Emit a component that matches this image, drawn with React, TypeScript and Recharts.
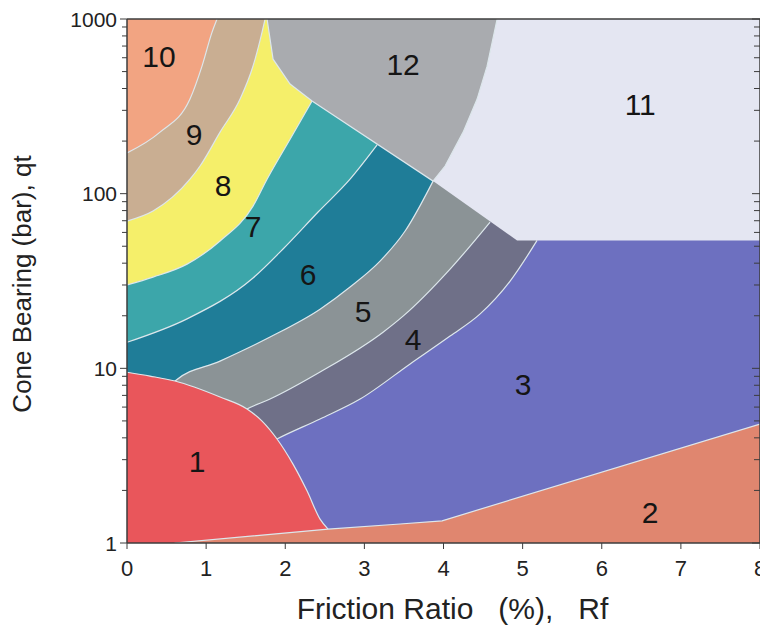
import { ComposedChart, Area, XAxis, YAxis, ReferenceDot } from "recharts";

const FONT = "'Liberation Sans Narrow', 'Liberation Sans', Arial, sans-serif";
const AXIS = "#3c3c3c";
const EDGE = "#dde7ec";

type Pt = [number, number];

// zone boundaries, [Rf (%), qt (bar)]
const zone3Fill: Pt[] = [[0, 1000], [8, 1000]];
const lower4: Pt[] = [[0, 1], [1.896, 3.94], [2.44, 5.13], [2.946, 6.67], [3.578, 10.6], [4.083, 15.3], [4.463, 20.5], [4.842, 31.6], [5.183, 54]];
const lower5: Pt[] = [[0, 1], [1.517, 5.85], [1.808, 6.67], [2.44, 9.52], [3.236, 16.1], [3.489, 19.9], [4.083, 37], [4.589, 68.8]];
const lower6: Pt[] = [[0, 1], [0.607, 8.46], [1.176, 11], [1.808, 15.1], [2.44, 21.8], [2.819, 29.2], [3.198, 41.1], [3.515, 61.1], [3.868, 118]];
const lower7: Pt[] = [[0, 14.1], [0.759, 19.2], [1.593, 32.9], [1.972, 48.2], [2.415, 78.5], [2.819, 121], [3.161, 190]];
const lower8: Pt[] = [[0, 30], [0.329, 33.3], [0.759, 39.5], [1.176, 53.6], [1.593, 84.9], [1.77, 121], [2.061, 205], [2.339, 339]];
const lower9: Pt[] = [[0, 69.7], [0.329, 79.5], [0.796, 121], [0.923, 144], [1.176, 225], [1.429, 348], [1.593, 538], [1.707, 841], [1.745, 1000]];
const lower10: Pt[] = [[0, 171], [0.417, 225], [0.796, 348], [0.948, 537], [1.075, 841], [1.138, 1000]];
const lower12: Pt[] = [[1.77, 1000], [1.846, 589], [2.061, 424], [2.339, 339], [3.868, 118], [4.02, 144], [4.248, 225], [4.425, 348], [4.551, 537], [4.678, 1000]];
const lower11: Pt[] = [[3.868, 118], [4.93, 54], [8, 54]];
const upper1: Pt[] = [[0, 9.5], [0.291, 9.03], [0.607, 8.46], [1.176, 6.85], [1.517, 5.85], [1.707, 4.99], [1.896, 3.94], [2.098, 2.83], [2.275, 1.99], [2.44, 1.37], [2.541, 1.2]];
const upper2: Pt[] = [[0.6, 1], [2.541, 1.2], [3.451, 1.285], [3.982, 1.34], [8, 4.8]];

const zoneNames = ["1", "2", "3", "4", "5", "6", "7", "8", "9", "10", "11", "12"];
const zoneRf = [0.885, 6.612, 5.006, 3.616, 2.984, 2.288, 1.593, 1.214, 0.847, 0.405, 6.486, 3.489];
const zoneQt = [2.95, 1.5, 8.13, 14.7, 21.3, 34.7, 65.3, 111, 219, 613, 326, 552];

const xTicks = [0, 1, 2, 3, 4, 5, 6, 7, 8];
const yMajor = [1, 10, 100, 1000];
const yTicks = [1, 2, 3, 4, 5, 6, 7, 8, 9, 10, 20, 30, 40, 50, 60, 70, 80, 90, 100, 200, 300, 400, 500, 600, 700, 800, 900, 1000];

const COLORS: Record<string, string> = {
  "1": "#e9565b",
  "2": "#e0866f",
  "3": "#6d70c0",
  "4": "#6f7088",
  "5": "#8b9396",
  "6": "#1f7d98",
  "7": "#3ca6aa",
  "8": "#f5ef6a",
  "9": "#c9ae92",
  "10": "#f2a482",
  "11": "#e4e6f2",
  "12": "#a9abaf",
};

// painted back to front, each later zone covers part of the earlier ones
const layers: { zone: string; pts: Pt[]; base: number; edge: boolean; smooth: boolean }[] = [
  { zone: "3", pts: zone3Fill, base: 1, edge: false, smooth: false },
  { zone: "4", pts: lower4, base: 1000, edge: true, smooth: true },
  { zone: "5", pts: lower5, base: 1000, edge: true, smooth: true },
  { zone: "6", pts: lower6, base: 1000, edge: true, smooth: true },
  { zone: "7", pts: lower7, base: 1000, edge: true, smooth: true },
  { zone: "8", pts: lower8, base: 1000, edge: true, smooth: true },
  { zone: "9", pts: lower9, base: 1000, edge: true, smooth: true },
  { zone: "10", pts: lower10, base: 1000, edge: true, smooth: true },
  { zone: "11", pts: lower11, base: 1000, edge: false, smooth: false },
  { zone: "12", pts: lower12, base: 1000, edge: true, smooth: false },
  { zone: "1", pts: upper1, base: 1, edge: true, smooth: true },
  { zone: "2", pts: upper2, base: 1, edge: true, smooth: false },
];

const toRows = (pts: Pt[]) => pts.map(([x, q]) => ({ x, q }));

function LeftTick(props: any) {
  const { x, y, payload } = props;
  const major = yMajor.includes(payload.value);
  return (
    <g>
      <line x1={x - (major ? 7 : 5)} x2={x} y1={y} y2={y} stroke={AXIS} />
      {major && (
        <text x={x - 10} y={y} dy="0.36em" textAnchor="end" fontSize={21} fontFamily={FONT} fill="#222">
          {payload.value}
        </text>
      )}
    </g>
  );
}

function RightTick(props: any) {
  const { x, y, payload } = props;
  const major = yMajor.includes(payload.value);
  return <line x1={x - (major ? 8 : 6)} x2={x} y1={y} y2={y} stroke={AXIS} />;
}

function BottomTick(props: any) {
  const { x, y, payload } = props;
  return (
    <g>
      <line x1={x} x2={x} y1={y} y2={y + 6} stroke={AXIS} />
      <text x={x} y={y + 25} textAnchor="middle" dominantBaseline="central" fontSize={22} fontFamily={FONT} fill="#222">
        {payload.value}
      </text>
    </g>
  );
}

function TopTick(props: any) {
  const { x, y } = props;
  return <line x1={x} x2={x} y1={y} y2={y + 3} stroke={AXIS} strokeWidth={2} />;
}

function XTitle(props: any) {
  const vb = props.viewBox ?? { x: 127, y: 543, width: 633, height: 80 };
  return (
    <text x={vb.x + vb.width / 2 + 9} y={vb.y + 65} textAnchor="middle" dominantBaseline="central" fontSize={30} fontFamily={FONT} fill="#222">
      {"Friction Ratio\u00a0\u00a0 (%),\u00a0\u00a0 Rf"}
    </text>
  );
}

function YTitle(props: any) {
  const vb = props.viewBox ?? { x: 8, y: 19, width: 119, height: 524 };
  const cx = vb.x + 14;
  const cy = vb.y + vb.height / 2 + 3;
  return (
    <text x={cx} y={cy} transform={`rotate(-90 ${cx} ${cy})`} textAnchor="middle" dominantBaseline="central" fontSize={26} fontFamily={FONT} fill="#222">
      Cone Bearing (bar), qt
    </text>
  );
}

export default function App() {
  return (
    <div style={{ marginTop: -8, marginLeft: -8 }}>
      <ComposedChart width={768} height={628} margin={{ top: 18, right: 7, bottom: 5, left: 8 }}>
        {layers.map((l) => (
          <Area
            key={l.zone}
            data={toRows(l.pts)}
            dataKey="q"
            xAxisId="bottom"
            yAxisId="left"
            type={l.smooth ? "monotone" : "linear"}
            baseValue={l.base}
            fill={COLORS[l.zone]}
            fillOpacity={1}
            stroke={l.edge ? EDGE : "none"}
            strokeWidth={1.2}
            dot={false}
            activeDot={false}
            isAnimationActive={false}
          />
        ))}
        {zoneNames.map((name, i) => (
          <ReferenceDot
            key={name}
            xAxisId="bottom"
            yAxisId="left"
            x={zoneRf[i]}
            y={zoneQt[i]}
            r={0}
            fill="none"
            stroke="none"
            label={{ value: name, position: "center", fontSize: 30, fill: "#151515", fontFamily: FONT }}
          />
        ))}
        <XAxis
          xAxisId="bottom"
          dataKey="x"
          type="number"
          domain={[0, 8]}
          ticks={xTicks}
          allowDataOverflow
          height={80}
          tickSize={0}
          tickMargin={0}
          tickLine={false}
          tick={<BottomTick />}
          axisLine={{ stroke: AXIS, strokeWidth: 1.5 }}
          label={<XTitle />}
        />
        <XAxis
          xAxisId="top"
          orientation="top"
          type="number"
          domain={[0, 8]}
          ticks={xTicks}
          allowDataOverflow
          height={1}
          tickSize={0}
          tickMargin={0}
          tickLine={false}
          tick={<TopTick />}
          axisLine={{ stroke: AXIS, strokeWidth: 1.5 }}
        />
        <YAxis
          yAxisId="left"
          scale="log"
          type="number"
          domain={[1, 1000]}
          ticks={yTicks}
          allowDataOverflow
          width={119}
          tickSize={0}
          tickMargin={0}
          tickLine={false}
          tick={<LeftTick />}
          axisLine={{ stroke: AXIS, strokeWidth: 1.5 }}
          interval={0}
          label={<YTitle />}
        />
        <YAxis
          yAxisId="right"
          orientation="right"
          scale="log"
          type="number"
          domain={[1, 1000]}
          ticks={yTicks}
          allowDataOverflow
          width={1}
          tickSize={0}
          tickMargin={0}
          tickLine={false}
          tick={<RightTick />}
          axisLine={{ stroke: AXIS, strokeWidth: 1.5 }}
          interval={0}
        />
      </ComposedChart>
    </div>
  );
}
